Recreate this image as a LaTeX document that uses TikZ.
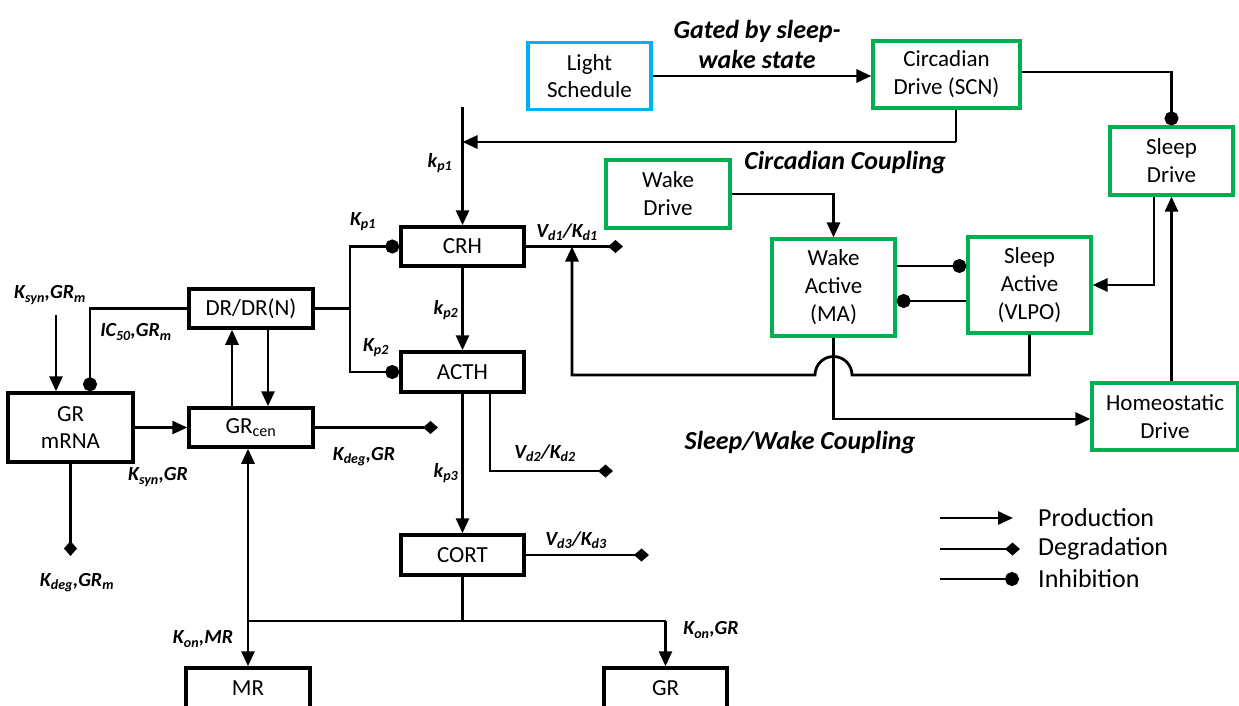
\documentclass[tikz,border=0pt]{standalone}
\usepackage{fontspec}
\setmainfont{Carlito}
\usetikzlibrary{arrows.meta}
\definecolor{grn}{RGB}{0,176,80}
\definecolor{blu}{RGB}{0,176,240}
\tikzset{
  bx/.style={draw=black, line width=3.5pt, inner sep=0pt, align=center, font=\fontsize{23}{27}\selectfont},
  gbx/.style={draw=grn, line width=3.2pt, inner sep=0pt, align=center, font=\fontsize{23}{28}\selectfont},
  cbx/.style={draw=blu, line width=3.2pt, inner sep=0pt, align=center, font=\fontsize{23}{27}\selectfont},
  conn/.style={line width=2.8pt},
  prod/.style={conn, -{Triangle[length=15pt,width=13pt]}},
  degr/.style={conn, -{Diamond[length=15pt,width=13pt]}},
  inhib/.style={conn, -{Circle[length=14pt]}},
  lab/.style={inner sep=0pt, font=\fontsize{20}{22}\selectfont\bfseries\itshape},
  head/.style={inner sep=0pt, align=center, font=\fontsize{26}{30}\selectfont\bfseries\itshape},
  leg/.style={inner sep=0pt, anchor=west, font=\fontsize{26}{28}\selectfont},
}
\begin{document}
\begin{tikzpicture}[x=1pt,y=-1pt]
\useasboundingbox (0,0) rectangle (1239,705);
% boxes
\node[cbx, minimum width=123pt, minimum height=67pt] (light) at (589.5,76) {Light\\Schedule};
\node[gbx, minimum width=147pt, minimum height=67pt] (circ) at (946.5,74.5) {Circadian\\Drive (SCN)};
\node[gbx, minimum width=123pt, minimum height=68pt] (sleepd) at (1171.5,161) {Sleep\\Drive};
\node[gbx, minimum width=124pt, minimum height=68pt] (waked) at (668,194) {Wake\\Drive};
\node[gbx, minimum width=123pt, minimum height=97pt] (wakea) at (833.5,287.5) {Wake\\Active\\(MA)};
\node[gbx, minimum width=123pt, minimum height=96pt] (sleepa) at (1029.5,285) {Sleep\\Active\\(VLPO)};
\node[gbx, minimum width=146pt, minimum height=67pt] (homeo) at (1165,416.5) {Homeostatic\\Drive};
\node[bx, minimum width=123pt, minimum height=39pt] (crh) at (462.5,246.5) {CRH};
\node[bx, minimum width=123pt, minimum height=40pt] (acth) at (462.5,372) {ACTH};
\node[bx, minimum width=123pt, minimum height=40pt] (cort) at (462.5,555) {CORT};
\node[bx, minimum width=124pt, minimum height=39pt] (dr) at (251,308.5) {DR/DR(N)};
\node[bx, minimum width=124pt, minimum height=39pt] (grcen) at (251,427.5) {GR\textsubscript{cen}};
\node[bx, minimum width=125pt, minimum height=69pt] (mrna) at (70.5,427.5) {GR\\mRNA};
\node[bx, minimum width=124pt, minimum height=40pt] (mr) at (248,688) {MR};
\node[bx, minimum width=123pt, minimum height=40pt] (gr) at (665.5,688) {GR};
% coordinates
\coordinate (top) at (462.5,107);
\coordinate (hz) at (0,142);
\coordinate (jy) at (0,375);
\coordinate (vx) at (572,0);
\coordinate (d1) at (623,0);
\coordinate (d2) at (613,471);
\coordinate (d3) at (649,0);
\coordinate (dg) at (438,0);
\coordinate (dm) at (0,556);
\coordinate (hb) at (0,621);
\coordinate (ks) at (56,315);
\coordinate (br) at (350,308.5);
% sleep/circadian part
\draw[prod] (light.east) -- (light.east -| circ.west);
\draw[inhib] ([yshift=2.5pt]circ.east) -| (sleepd.north);
\draw[conn] ([xshift=9.5pt]circ.south) |- ([xshift=9.5pt]circ.south |- hz);
\draw[prod] ([xshift=9.5pt]circ.south |- hz) -- (top |- hz);
\draw[prod] (top) -- (crh.north);
\draw[prod] (waked.east) -| (wakea.north);
\draw[inhib] ([yshift=21.5pt]wakea.east) -- ([yshift=21.5pt]wakea.east -| sleepa.west);
\draw[inhib] ([yshift=-16pt]sleepa.west) -- ([yshift=-16pt]sleepa.west -| wakea.east);
\draw[prod] ([xshift=-17.5pt]sleepd.south) |- (sleepa.east);
\draw[prod] (homeo.north -| sleepd.south) -- (sleepd.south);
\draw[prod] (wakea.south) |- ([yshift=-2.5pt]homeo.west);
\draw[prod] (sleepa.south) |- ([xshift=18.5pt]wakea.south |- jy)
  arc[start angle=0, end angle=180, radius=18.5pt] -- (vx |- jy) -- (vx |- crh.east);
% HPA axis
\draw[degr] (crh.east) -- (crh.east -| d1);
\draw[prod] (crh.south) -- (acth.north);
\draw[prod] (acth.south) -- (cort.north);
\draw[degr] ([xshift=27.5pt]acth.south) |- (d2);
\draw[degr] (cort.east) -- (cort.east -| d3);
\draw[conn] (cort.south) -- (cort.south |- hb);
\draw[conn] (hb -| mr.north) -- (hb -| gr.north);
\draw[prod] (hb -| gr.north) -- (gr.north);
\draw[conn, {Triangle[length=15pt,width=13pt]}-{Triangle[length=15pt,width=13pt]}] (grcen.south -| mr.north) -- (mr.north);
\draw[degr] (grcen.east) -- (grcen.east -| dg);
\draw[prod] (mrna.east) -- (grcen.west);
\draw[degr] (mrna.south) -- (mrna.south |- dm);
\draw[prod] (ks) -- (ks |- mrna.north);
\draw[inhib] (dr.west) -| ([xshift=19.5pt]mrna.north);
\draw[prod] ([xshift=-19pt]grcen.north) -- ([xshift=-19pt]grcen.north |- dr.south);
\draw[prod] ([xshift=17pt]dr.south) -- ([xshift=17pt]dr.south |- grcen.north);
\draw[conn] (dr.east) -- (br);
\draw[inhib] (br) |- (crh.west);
\draw[inhib] (br) |- (acth.west);
% labels
\node[head] (lgate) at (757,44) {Gated by sleep-\\wake state};
\node[head] (lcc) at (845,163) {Circadian Coupling};
\node[head] (lswc) at (800,443) {Sleep/Wake Coupling};
\node[lab] (lkp1) at (440,163) {k\textsubscript{p1}};
\node[lab] (lkp2) at (446,310) {k\textsubscript{p2}};
\node[lab] (lkp3) at (446,473) {k\textsubscript{p3}};
\node[lab] (lKp1) at (363,222) {K\textsubscript{p1}};
\node[lab] (lKp2) at (376,348) {K\textsubscript{p2}};
\node[lab] (lvd1) at (567,232) {V\textsubscript{d1}/K\textsubscript{d1}};
\node[lab] (lvd2) at (545,453) {V\textsubscript{d2}/K\textsubscript{d2}};
\node[lab] (lvd3) at (576,540) {V\textsubscript{d3}/K\textsubscript{d3}};
\node[lab] (lkdg) at (364,457) {K\textsubscript{deg},GR};
\node[lab] (lkong) at (711,630) {K\textsubscript{on},GR};
\node[lab] (lkonm) at (203,639) {K\textsubscript{on},MR};
\node[lab] (lkdgm) at (77,583) {K\textsubscript{deg},GR\textsubscript{m}};
\node[lab] (lksg) at (158,477) {K\textsubscript{syn},GR};
\node[lab] (lksm) at (50,295) {K\textsubscript{syn},GR\textsubscript{m}};
\node[lab] (lic) at (136,332) {IC\textsubscript{50},GR\textsubscript{m}};
% legend
\coordinate (p0) at (940,518); \coordinate (p1) at (1013,518);
\coordinate (q0) at (940,549); \coordinate (q1) at (1020,549);
\coordinate (r0) at (940,579); \coordinate (r1) at (1019,579);
\draw[prod] (p0) -- (p1);
\draw[degr] (q0) -- (q1);
\draw[inhib] (r0) -- (r1);
\node[leg] (tp) at (1038,518) {Production};
\node[leg] (td) at (1038,549) {Degradation};
\node[leg] (ti) at (1038,579) {Inhibition};
\end{tikzpicture}
\end{document}
